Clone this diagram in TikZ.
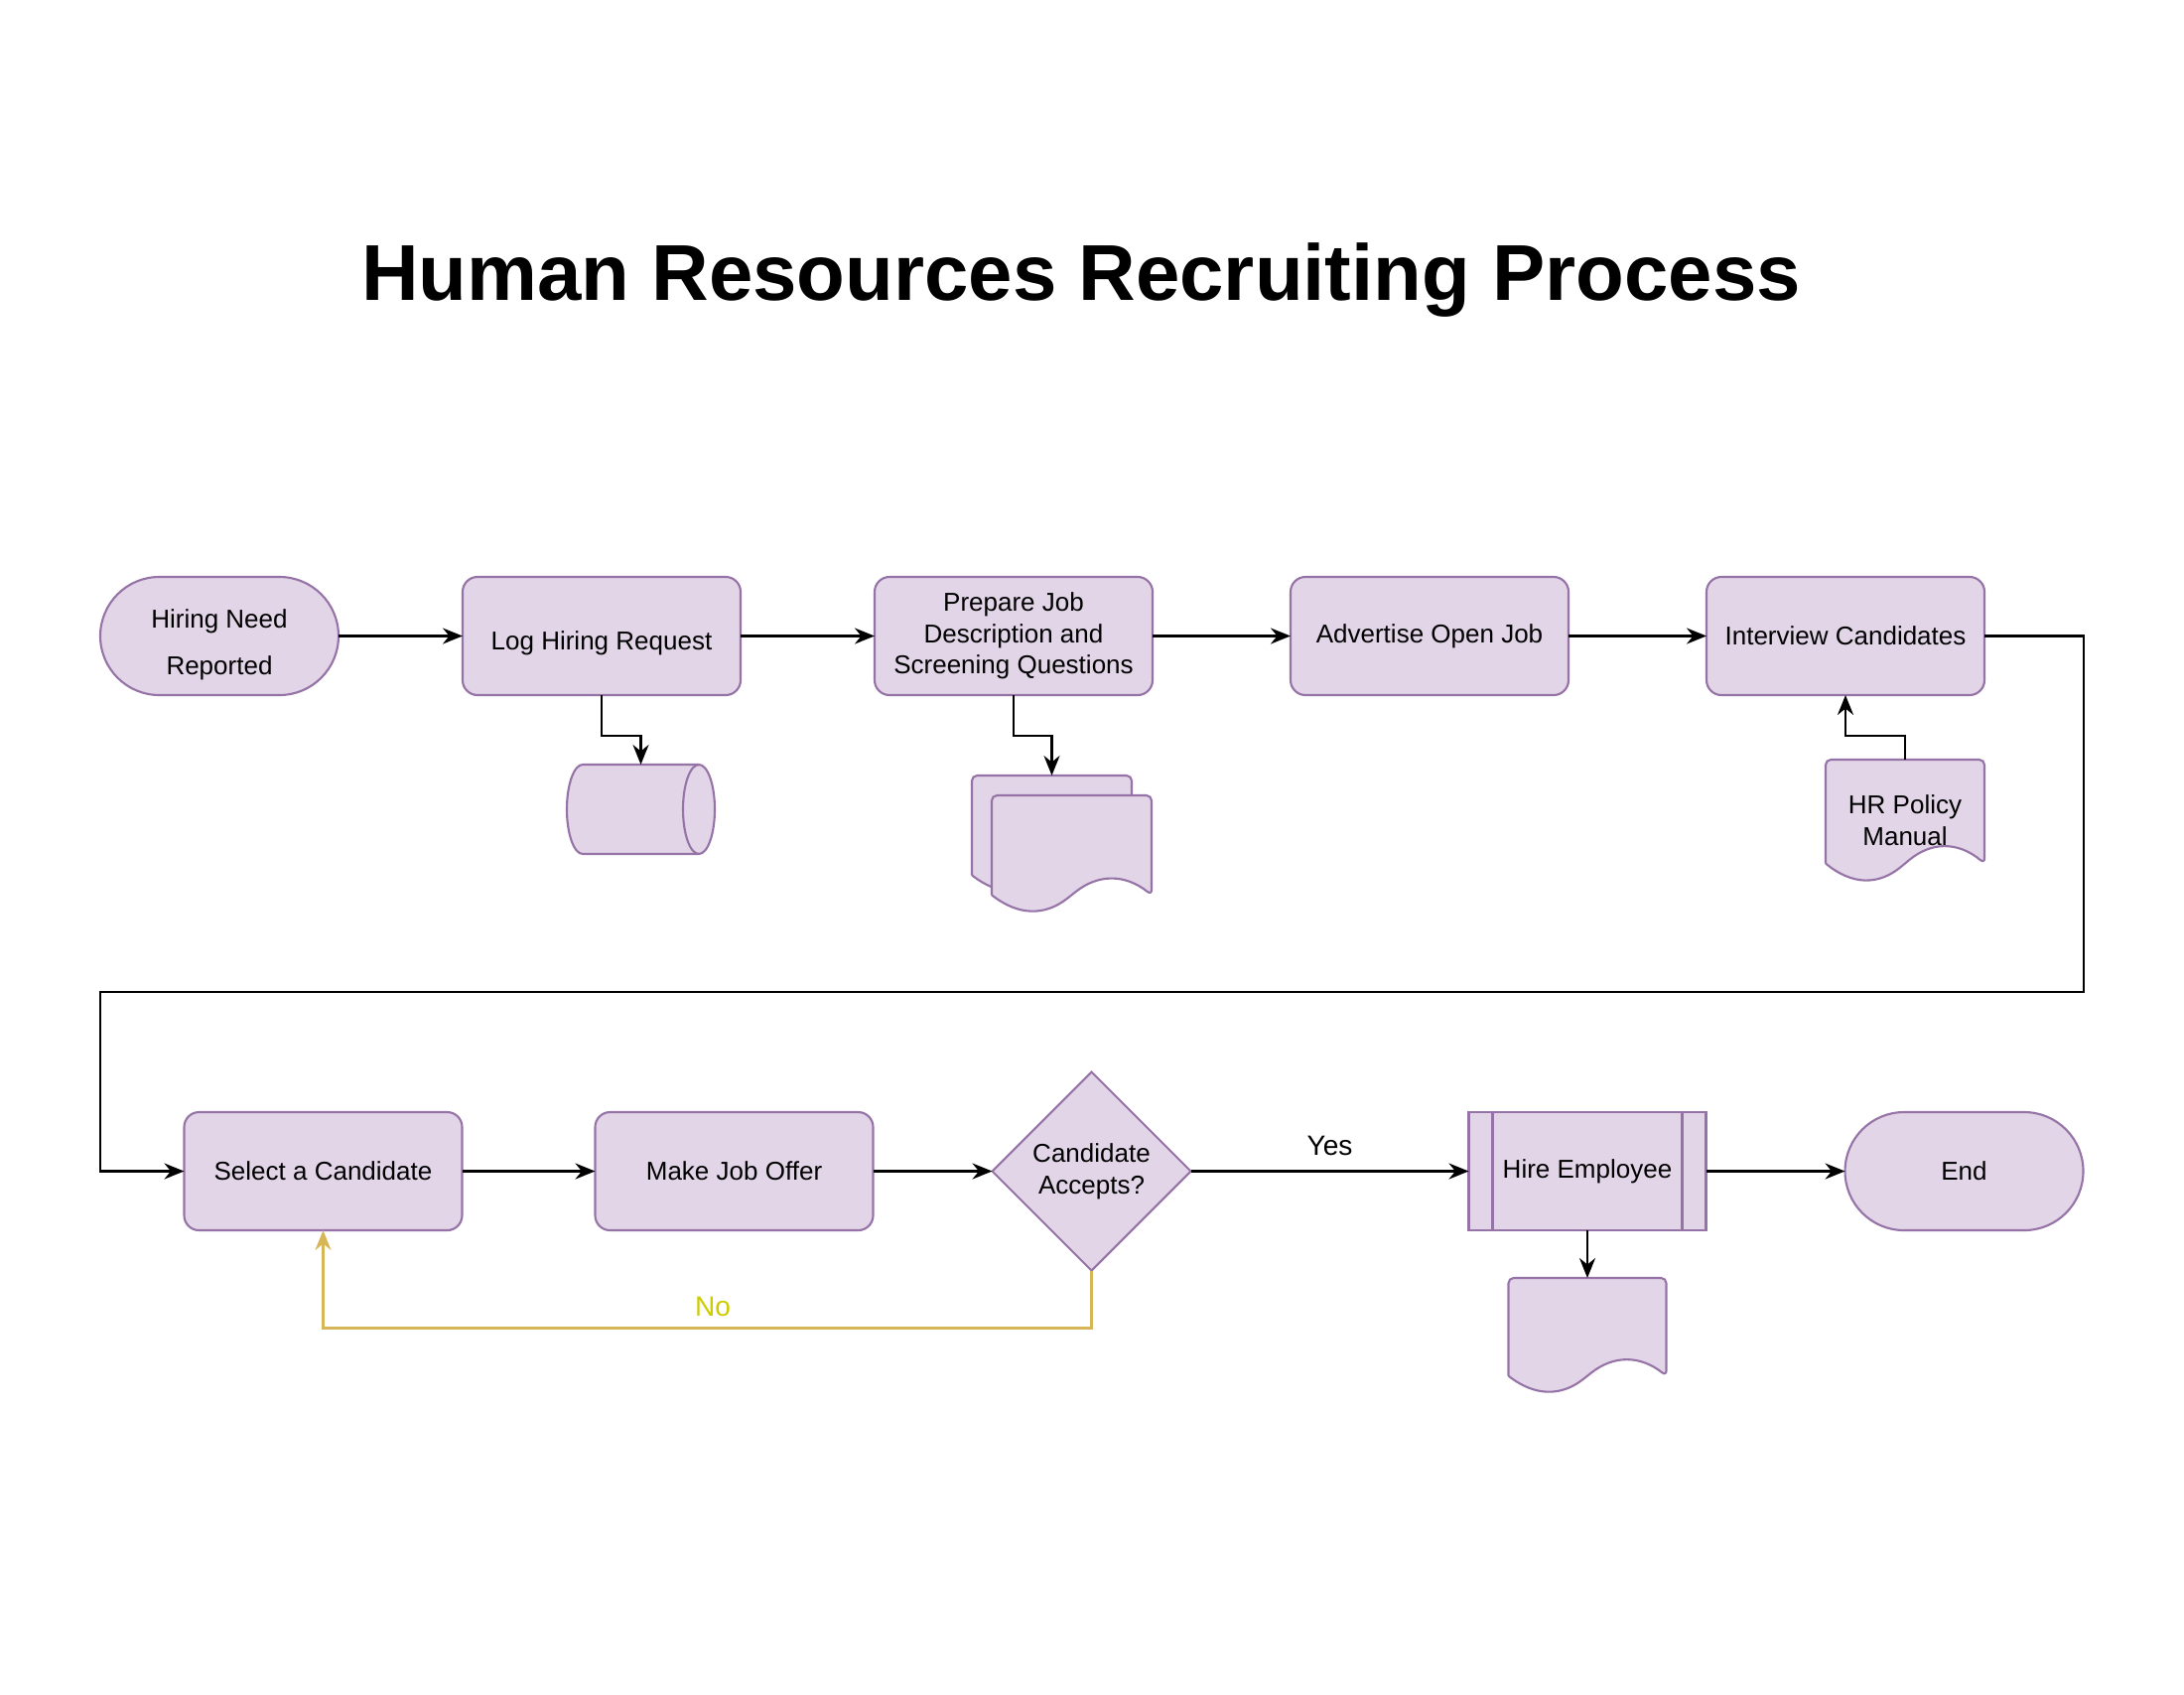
\documentclass[tikz,border=0pt]{standalone}
\usepackage{fontspec}
\setmainfont{Liberation Sans}
\usepackage{xcolor}
\usepackage{tikz}
\usetikzlibrary{arrows.meta,positioning,calc,shapes.geometric,backgrounds}
\definecolor{lila}{HTML}{E1D5E7}
\definecolor{lilaborde}{HTML}{9673A6}
\definecolor{dorado}{HTML}{D6B656}
\definecolor{oliva}{RGB}{204,204,0}

\tikzset{
  texto/.style={font=\fontsize{7.4}{9}\selectfont},
  paso/.style={texto,draw=lilaborde,fill=lila,line width=0.6pt,rounded corners=0.15cm,
    minimum width=2.8cm,minimum height=1.19cm,align=center,outer sep=0pt},
  terminal/.style={paso,rounded corners=0.595cm,minimum width=2.4cm},
  proceso/.style={paso,rounded corners=0pt,minimum width=2.39cm},
  decision/.style={texto,diamond,draw=lilaborde,fill=lila,line width=0.6pt,
    minimum width=2cm,minimum height=2cm,inner sep=0pt,outer sep=0pt,align=center},
  docnodo/.style={texto,minimum width=1.61cm,minimum height=1.18cm,inner sep=0pt,
    outer sep=0pt,align=center},
  forma/.style={draw=lilaborde,fill=lila,line width=0.6pt},
  flecha/.style={line width=0.7pt,-{Stealth[length=2mm,width=1.6mm]}},
  flechano/.style={flecha,draw=dorado},
  etiqueta/.style={font=\fontsize{8}{10}\selectfont},
  titulo/.style={anchor=base,font=\bfseries\fontsize{22.7}{27}\selectfont}
}

% document outline around a node
\newcommand{\docpath}[1]{%
  \filldraw[forma,rounded corners=1.5pt] let \p1=(#1.north west), \p2=(#1.south east),
    \n1={\x2-\x1}, \n2={0.3*(\y1-\y2)} in
    (\x1,\y2+0.5*\n2) -- (\x1,\y1) -- (\x2,\y1) -- (\x2,\y2+0.5*\n2)
    .. controls (\x2-\n1/6,\y2+1.1*\n2) and (\x1+2*\n1/3,\y2+1.1*\n2) .. (\x1+0.5*\n1,\y2+0.5*\n2)
    .. controls (\x1+\n1/3,\y2-0.1*\n2) and (\x1+\n1/6,\y2-0.1*\n2) .. (\x1,\y2+0.5*\n2);}

\begin{document}
\begin{tikzpicture}
\useasboundingbox (0,0) rectangle (22,-17.06);

\node[titulo] (titulo) at (10.89,-3.02) {Human Resources Recruiting Process};

% first row
\node[terminal] (need) at (2.21,-6.405) {};
\node[texto,align=center,font=\fontsize{7.4}{13.4}\selectfont] (needtxt)
  at ($(need)+(0,-0.085)$) {Hiring Need\\Reported};
\node[paso,right=1.25cm of need,text height=0.33cm,text depth=0.06cm] (log) {Log Hiring Request};
\node[paso,right=1.35cm of log] (prep) {Prepare Job\\Description and\\Screening Questions};
\node[paso,right=1.39cm of prep] (adv) {Advertise Open Job};
\node[paso,right=1.39cm of adv] (int) {Interview Candidates};

\node[minimum width=1.49cm,minimum height=0.9cm,inner sep=0pt,outer sep=0pt] (db) at (6.455,-8.15) {};
\node[docnodo] (mdfront) at (10.795,-8.60) {};
\node[docnodo] (mdback) at ($(mdfront)+(-0.2,0.2)$) {};
\node[docnodo,minimum width=1.6cm,minimum height=1.23cm] (hr) at (19.19,-8.265) {HR Policy\\Manual};

% second row
\node[paso] (sel) at (3.255,-11.795) {Select a Candidate};
\node[paso,right=1.34cm of sel] (offer) {Make Job Offer};
\node[decision,right=1.20cm of offer] (dec) {Candidate\\Accepts?};
\node[proceso,right=2.80cm of dec] (hire) {Hire Employee};
\node[terminal,right=1.40cm of hire] (fin) {End};
\node[docnodo,minimum width=1.59cm,minimum height=1.16cm,below=0.48cm of hire] (rec) {};

\draw[lilaborde,line width=0.6pt] ($(hire.north west)+(0.24,0)$) -- ($(hire.south west)+(0.24,0)$);
\draw[lilaborde,line width=0.6pt] ($(hire.north east)+(-0.24,0)$) -- ($(hire.south east)+(-0.24,0)$);

\begin{scope}[on background layer]
  \filldraw[forma] let \p1=(db.north west), \p2=(db.south east) in
    (\x1+0.16cm,\y1) -- (\x2-0.16cm,\y1)
    arc[start angle=90,end angle=-90,x radius=0.16cm,y radius=0.45cm]
    -- (\x1+0.16cm,\y2)
    arc[start angle=270,end angle=90,x radius=0.16cm,y radius=0.45cm] -- cycle;
  \draw[forma,fill=none] let \p1=(db.north east) in
    (\x1-0.16cm,\y1) arc[start angle=90,end angle=270,x radius=0.16cm,y radius=0.45cm];
  \docpath{mdback}
  \docpath{mdfront}
  \docpath{hr}
  \docpath{rec}
\end{scope}

% connectors
\coordinate (lazoa) at (20.99,-9.99);
\coordinate (lazob) at (1.01,-9.99);
\draw[flecha] (need.east) -- (log.west);
\draw[flecha] (log.east) -- (prep.west);
\draw[flecha] (prep.east) -- (adv.west);
\draw[flecha] (adv.east) -- (int.west);
\draw[flecha] (log.south) -- ++(0,-0.41) -| (db.north);
\draw[flecha] (prep.south) -- ++(0,-0.41) -| (mdback.north);
\draw[flecha] (hr.north) -- ++(0,0.24) -| (int.south);
\draw[flecha] (int.east) -| (lazoa) -- (lazob) |- (sel.west);
\draw[flecha] (sel.east) -- (offer.west);
\draw[flecha] (offer.east) -- (dec.west);
\draw[flecha] (dec.east) -- node[etiqueta,above=0.7pt] (yeslab) {Yes} (hire.west);
\draw[flecha] (hire.east) -- (fin.west);
\draw[flecha] (hire.south) -- (rec.north);
\draw[flechano] (dec.south) -- ++(0,-0.58) -| (sel.south);
\node[etiqueta,text=oliva] (nolab) at (7.18,-13.16) {No};
\end{tikzpicture}
\end{document}
